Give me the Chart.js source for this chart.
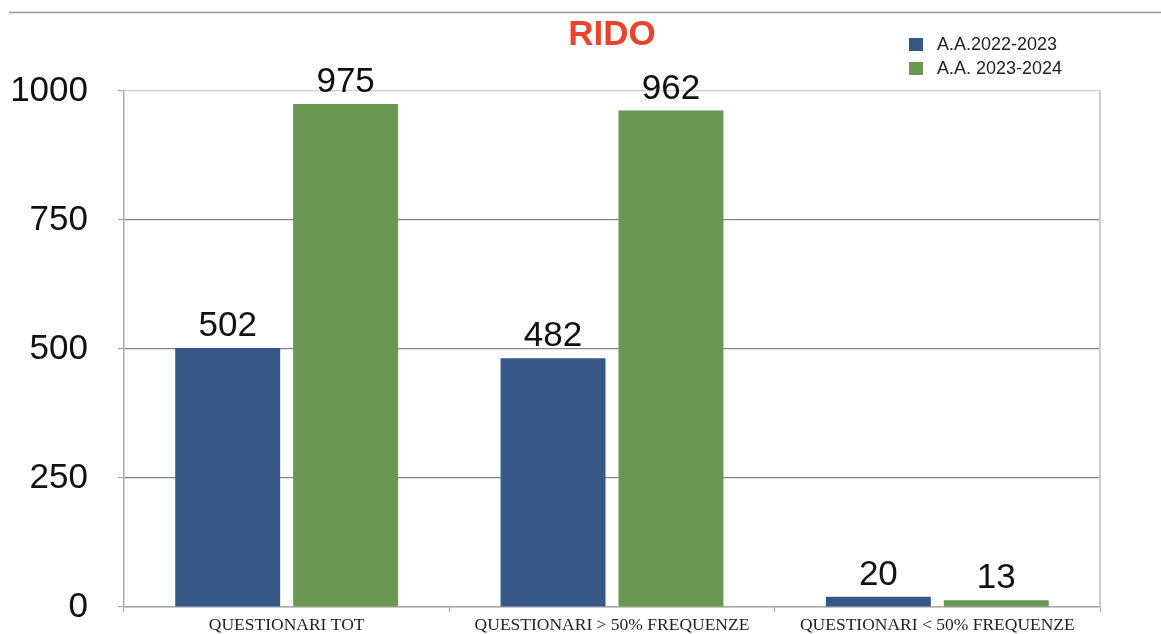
<!DOCTYPE html>
<html>
<head>
<meta charset="utf-8">
<title>RIDO</title>
<script src="https://cdn.jsdelivr.net/npm/chart.js@4/dist/chart.umd.min.js"></script>
<style>
  html, body { margin: 0; padding: 0; background: #fff; }
  #wrap { width: 1161px; height: 634px; position: relative; }
</style>
</head>
<body>
<div id="wrap"><canvas id="ridoChart"></canvas></div>
<script>
// Dati del grafico
var categorie = ['QUESTIONARI TOT', 'QUESTIONARI > 50% FREQUENZE', 'QUESTIONARI < 50% FREQUENZE'];
var serie2223 = [502, 482, 20];
var serie2324 = [975, 962, 13];
var etichetteSerie = ['A.A.2022-2023', 'A.A. 2023-2024'];
var tickY = [0, 250, 500, 750, 1000];

var coloreBlu = '#375887';
var coloreVerde = '#6a9853';

// Valori sopra le barre, legenda e cornice
var decorazioni = {
  id: 'decorazioni',
  afterDraw: function(chart) {
    var ctx = chart.ctx;
    var area = chart.chartArea;
    ctx.save();

    // linea in alto
    ctx.strokeStyle = '#9a9a9a';
    ctx.lineWidth = 1.5;
    ctx.beginPath();
    ctx.moveTo(9, 12.5);
    ctx.lineTo(chart.width, 12.5);
    ctx.stroke();

    // bordo destro
    ctx.strokeStyle = '#cccccc';
    ctx.lineWidth = 2;
    ctx.beginPath();
    ctx.moveTo(area.right, area.top);
    ctx.lineTo(area.right, area.bottom);
    ctx.stroke();

    // valori
    ctx.fillStyle = '#111';
    ctx.font = '35px "Liberation Sans", Arial, sans-serif';
    ctx.textAlign = 'center';
    ctx.textBaseline = 'alphabetic';
    chart.data.datasets.forEach(function(ds, i) {
      chart.getDatasetMeta(i).data.forEach(function(bar, j) {
        ctx.fillText(String(ds.data[j]), bar.x, bar.y - 12);
      });
    });

    // legenda
    ctx.font = '18px "Liberation Sans", Arial, sans-serif';
    ctx.textAlign = 'left';
    ctx.textBaseline = 'middle';
    chart.data.datasets.forEach(function(ds, i) {
      var y = 44 + i * 24;
      ctx.fillStyle = ds.backgroundColor;
      ctx.fillRect(909, y - 6, 14, 13);
      ctx.fillStyle = '#222';
      ctx.fillText(ds.label, 937, y + 1);
    });
    ctx.restore();
  }
};

var ctx = document.getElementById('ridoChart').getContext('2d');
var chart = new Chart(ctx, {
  type: 'bar',
  data: {
    labels: categorie,
    datasets: [{
      label: etichetteSerie[0],
      data: serie2223,
      backgroundColor: coloreBlu,
      borderWidth: 0
    }, {
      label: etichetteSerie[1],
      data: serie2324,
      backgroundColor: coloreVerde,
      borderWidth: 0
    }]
  },
  options: {
    responsive: true,
    maintainAspectRatio: false,
    animation: false,
    categoryPercentage: 0.725,
    barPercentage: 0.89,
    layout: {
      padding: { left: 10, right: 61, top: 0, bottom: 0 }
    },
    plugins: {
      legend: { display: false },
      tooltip: { enabled: false },
      title: {
        display: true,
        text: 'RIDO',
        fullSize: false,
        color: '#e8442d',
        font: { family: '"Liberation Sans", Arial, sans-serif', size: 35, weight: 'bold' },
        padding: { top: 14, bottom: 35 }
      }
    },
    scales: {
      x: {
        afterFit: function(axis) { axis.height = 27; },
        grid: {
          drawOnChartArea: false,
          tickLength: 5,
          tickColor: '#aaaaaa'
        },
        border: { color: '#aaaaaa', width: 1.5 },
        ticks: {
          color: '#222',
          padding: 5,
          maxRotation: 0,
          minRotation: 0,
          autoSkip: false,
          font: { family: '"Liberation Serif", "Times New Roman", serif', size: 17.5, lineHeight: 1.0 }
        }
      },
      y: {
        min: 0,
        max: 1000,
        afterFit: function(axis) {
          axis.width = 114;
          axis.paddingTop = 0;
          axis.paddingBottom = 0;
        },
        afterBuildTicks: function(axis) {
          axis.ticks = tickY.map(function(v) { return { value: v }; });
        },
        grid: {
          color: function(c) {
            if (c.tick && c.tick.value === 1000) return '#cfcfcf';
            if (c.tick && c.tick.value === 0) return '#aaaaaa';
            return '#858585';
          },
          lineWidth: 1.2,
          tickLength: 6,
          tickColor: '#aaaaaa'
        },
        border: { color: '#aaaaaa', width: 1.5 },
        ticks: {
          color: '#111',
          padding: 30,
          callback: function(v) { return String(v); },
          font: { family: '"Liberation Sans", Arial, sans-serif', size: 35 }
        }
      }
    }
  },
  plugins: [decorazioni]
});
</script>
</body>
</html>
